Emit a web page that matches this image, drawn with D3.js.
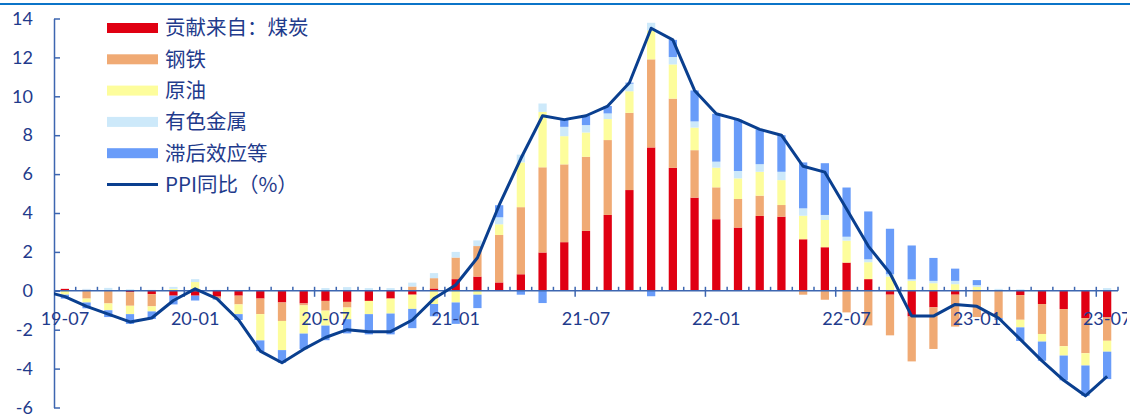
<!DOCTYPE html>
<html>
<head>
<meta charset="utf-8">
<script src="https://cdn.jsdelivr.net/npm/d3@7"></script>
<style>
  html, body { margin: 0; padding: 0; background: #ffffff; }
  svg { display: block; }
</style>
</head>
<body>
<svg id="chart" width="1141" height="417"></svg>
<script>
// Months on the category axis
const months = [
  "19-07","19-08","19-09","19-10","19-11","19-12",
  "20-01","20-02","20-03","20-04","20-05","20-06",
  "20-07","20-08","20-09","20-10","20-11","20-12",
  "21-01","21-02","21-03","21-04","21-05","21-06",
  "21-07","21-08","21-09","21-10","21-11","21-12",
  "22-01","22-02","22-03","22-04","22-05","22-06",
  "22-07","22-08","22-09","22-10","22-11","22-12",
  "23-01","23-02","23-03","23-04","23-05","23-06",
  "23-07"
];

// Labelled months on the x axis
const xTickLabels = ["19-07","20-01","20-07","21-01","21-07","22-01","22-07","23-01","23-07"];
const yTicks = [-6, -4, -2, 0, 2, 4, 6, 8, 10, 12, 14];

// Contributions to PPI y/y (percentage points)
const coal = [
  0.1, 0.05, 0, -0.07, -0.17, -0.25,
  -0.25, -0.3, -0.25, -0.4, -0.6, -0.65,
  -0.52, -0.57, -0.52, -0.4, -0.2, 0.12,
  0.6, 0.73, 0.43, 0.85, 1.97, 2.5,
  3.08, 3.9, 5.18, 7.37, 6.32, 4.79,
  3.68, 3.25, 3.85, 3.81, 2.65, 2.24,
  1.45, 0.6, -0.2, -1.32, -0.85, -0.2,
  0, 0, -0.22, -0.68, -0.94, -1.4,
  -1.37
];
const steel = [
  0, -0.4, -0.65, -0.7, -0.63, 0,
  0.05, -0.1, -0.45, -0.8, -0.95, -0.1,
  -0.5, -0.29, 0, 0, 0.22, 0.53,
  1.11, 1.57, 2.44, 3.45, 4.38, 4.0,
  3.81, 3.85, 3.97, 4.53, 3.56, 2.44,
  1.64, 1.47, 1.04, 0.6, -0.2, -0.46,
  -1.11, -1.78, -2.09, -2.31, -2.14, -1.64,
  -1.35, -1.4, -1.27, -1.54, -1.91, -1.81,
  -1.2
];
const crudeOil = [
  -0.2, -0.2, -0.35, -0.43, -0.26, 0.1,
  0.4, 0, -0.5, -1.35, -1.5, -1.45,
  -0.77, -0.6, -0.68, -0.77, -0.73, -0.68,
  -0.6, -0.2, 0.55, 2.3, 2.85, 1.45,
  1.25, 1.08, 1.11, 1.49, 1.76, 1.16,
  1.01, 1.06, 1.23, 1.28, 1.21, 1.4,
  1.13, 0.87, 0.73, 0.51, 0.39, 0.34,
  0.2, 0, -0.39, -0.39, -0.48, -0.63,
  -0.56
];
const nonferrous = [
  0, 0.05, 0.15, 0.08, 0.05, 0.1,
  0.15, 0.05, 0, 0, 0, 0,
  0.14, 0.19, 0.14, 0.14, 0.2, 0.26,
  0.29, 0.29, 0.36, 0.4, 0.43, 0.48,
  0.38, 0.29, 0.39, 0.39, 0.38, 0.32,
  0.31, 0.38, 0.39, 0.43, 0.38, 0.26,
  0.2, 0.15, 0.12, 0.08, 0.12, 0.17,
  0.09, 0.1, 0.08, 0, 0, 0,
  0.14
];
const lagEffects = [
  -0.2, -0.3, -0.35, -0.5, -0.39, -0.45,
  -0.25, -0.05, -0.3, -0.55, -0.65, -0.8,
  -0.75, -0.73, -1.04, -1.07, -0.99, -0.63,
  -1.1, -0.69, 0.62, -0.2, -0.63, 0.37,
  0.48, 0.38, 0.05, -0.28, 0.88, 1.59,
  2.46, 2.64, 1.79, 1.88, 2.36, 2.66,
  2.53, 2.46, 2.34, 1.74, 1.18, 0.63,
  0.26, -0.1, -0.7, -0.99, -1.27, -1.56,
  -1.41
];

// PPI y/y (%)
const ppi = [
  -0.3, -0.8, -1.2, -1.6, -1.4, -0.5,
  0.1, -0.4, -1.5, -3.1, -3.7, -3.0,
  -2.4, -2.0, -2.1, -2.1, -1.5, -0.4,
  0.3, 1.7, 4.4, 6.8, 9.0, 8.8,
  9.0, 9.5, 10.7, 13.5, 12.9, 10.3,
  9.1, 8.8, 8.3, 8.0, 6.4, 6.1,
  4.2, 2.3, 0.9, -1.3, -1.3, -0.7,
  -0.8, -1.4, -2.5, -3.6, -4.6, -5.4,
  -4.4
];
// June 2019 reading; the line enters the plot from this point
const ppiBefore = 0.0;

const seriesKeys = ["coal", "steel", "crudeOil", "nonferrous", "lagEffects"];
const seriesNames = ["贡献来自：煤炭", "钢铁", "原油", "有色金属", "滞后效应等"];
const seriesColors = ["#e00012", "#f0aa74", "#fdfd9c", "#cde9fa", "#699cf9"];
const lineName = "PPI同比（%）";
const lineColor = "#0a3f8f";

const textColor = "#1f3b8c";
const axisColor = "#3d66b0";
const latinFont = "Lato, 'Open Sans', sans-serif";
const cjkFont = "'Noto Sans CJK SC', 'Noto Sans', sans-serif";

const rows = months.map((m, i) => ({
  month: m,
  coal: coal[i], steel: steel[i], crudeOil: crudeOil[i],
  nonferrous: nonferrous[i], lagEffects: lagEffects[i]
}));

const svg = d3.select("#chart");

const plotLeft = 54, plotRight = 1118;
const x = d3.scaleBand()
  .domain(months)
  .range([plotLeft, plotRight])
  .paddingInner(0.62)
  .paddingOuter(0.31);
const y = d3.scaleLinear().domain([-6, 14]).range([407.5, 18.5]);
const step = x.step();
const bw = x.bandwidth();
const cx = m => x(m) + bw / 2;

// Blue rule across the top
svg.append("line")
  .attr("x1", 0).attr("x2", 1130)
  .attr("y1", 4).attr("y2", 4)
  .attr("stroke", "#0b74c8").attr("stroke-width", 2);

// Clip regions
const defs = svg.append("defs");
defs.append("clipPath").attr("id", "plotClip")
  .append("rect").attr("x", plotLeft).attr("y", 0)
  .attr("width", 1128 - plotLeft).attr("height", 417);
defs.append("clipPath").attr("id", "labelClip")
  .append("rect").attr("x", 0).attr("y", 0)
  .attr("width", 1127).attr("height", 417);

// Stacked contribution bars (positives up, negatives down)
const stacked = d3.stack()
  .keys(seriesKeys)
  .offset(d3.stackOffsetDiverging)(rows);

svg.append("g").selectAll("g")
  .data(stacked)
  .join("g")
  .attr("fill", (d, i) => seriesColors[i])
  .selectAll("rect")
  .data(d => d)
  .join("rect")
  .attr("x", d => x(d.data.month))
  .attr("width", bw)
  .attr("y", d => y(Math.max(d[0], d[1])))
  .attr("height", d => Math.abs(y(d[0]) - y(d[1])));

// Y axis
const yAxis = svg.append("g")
  .attr("transform", `translate(${plotLeft},0)`)
  .call(d3.axisLeft(y)
    .tickValues(yTicks)
    .tickSizeInner(-6)
    .tickSizeOuter(0)
    .tickPadding(21)
    .tickFormat(d => String(d)));
yAxis.select(".domain").attr("stroke", axisColor).attr("stroke-width", 1.5);
yAxis.selectAll(".tick line").attr("stroke", axisColor).attr("stroke-width", 1.5);
yAxis.selectAll(".tick text")
  .attr("fill", textColor)
  .style("font-family", latinFont)
  .style("font-size", "18px");

// X axis along zero
const y0 = y(0);
const xAxis = svg.append("g");
xAxis.append("line")
  .attr("x1", plotLeft).attr("x2", plotRight)
  .attr("y1", y0).attr("y2", y0)
  .attr("stroke", axisColor).attr("stroke-width", 1.5);
xAxis.selectAll("line.tick")
  .data(d3.range(1, months.length + 1))
  .join("line")
  .attr("class", "tick")
  .attr("x1", i => plotLeft + step * i)
  .attr("x2", i => plotLeft + step * i)
  .attr("y1", y0 - 4)
  .attr("y2", i => (i % 6 === 0 && i < months.length) ? y0 + 6 : y0)
  .attr("stroke", axisColor).attr("stroke-width", 1.5);

svg.append("g").attr("clip-path", "url(#labelClip)")
  .selectAll("text")
  .data(xTickLabels)
  .join("text")
  .attr("x", d => cx(d))
  .attr("y", y0 + 34)
  .attr("text-anchor", "middle")
  .attr("fill", textColor)
  .style("font-family", latinFont)
  .style("font-size", "18px")
  .text(d => d);

// PPI line
const linePts = [{ x: cx(months[0]) - step, v: ppiBefore }]
  .concat(months.map((m, i) => ({ x: cx(m), v: ppi[i] })));
svg.append("path")
  .attr("clip-path", "url(#plotClip)")
  .datum(linePts)
  .attr("fill", "none")
  .attr("stroke", lineColor)
  .attr("stroke-width", 3)
  .attr("stroke-linejoin", "round")
  .attr("d", d3.line().x(d => d.x).y(d => y(d.v)));

// Legend
const legend = svg.append("g");
const legX = 107, legW = 51, rowY0 = 28, rowGap = 31.3;
seriesNames.forEach((name, i) => {
  const cy = rowY0 + i * rowGap;
  legend.append("rect")
    .attr("x", legX).attr("y", cy - 5)
    .attr("width", legW).attr("height", 10)
    .attr("fill", seriesColors[i]);
  legend.append("text")
    .attr("x", 165).attr("y", cy)
    .attr("dy", "0.36em")
    .attr("fill", textColor)
    .style("font-family", cjkFont)
    .style("font-size", "20.5px")
    .text(name);
});
{
  const cy = rowY0 + seriesNames.length * rowGap;
  legend.append("line")
    .attr("x1", legX).attr("x2", legX + legW)
    .attr("y1", cy).attr("y2", cy)
    .attr("stroke", lineColor).attr("stroke-width", 3);
  legend.append("text")
    .attr("x", 165).attr("y", cy)
    .attr("dy", "0.36em")
    .attr("fill", textColor)
    .style("font-family", cjkFont)
    .style("font-size", "20.5px")
    .text(lineName);
}
</script>
</body>
</html>
